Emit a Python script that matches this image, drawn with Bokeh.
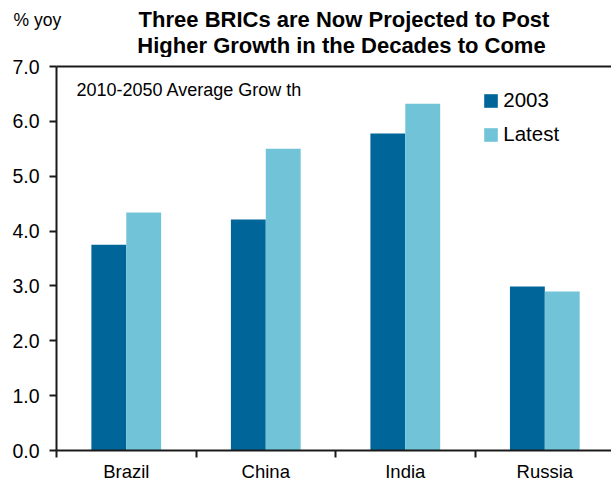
from bokeh.plotting import figure
from bokeh.layouts import column
from bokeh.models import (Range1d, FixedTicker, NumeralTickFormatter, Label, LinearAxis,
                          Legend, LegendItem, ColumnDataSource)
from bokeh.embed import file_html
from bokeh.resources import INLINE

# ---- data ----
categories = ["Brazil", "China", "India", "Russia"]
growth_2003 = [3.75, 4.21, 5.78, 2.99]
growth_latest = [4.34, 5.50, 6.32, 2.90]
series_names = ["2003", "Latest"]
y_ticks = [0, 1, 2, 3, 4, 5, 6, 7]
title_lines = ["Three BRICs are Now Projected to Post",
               "Higher Growth in the Decades to Come"]
unit_label = "% yoy"
note_text = "2010-2050 Average Grow th"

# ---- style ----
FONT = "Liberation Sans"
DARK = "#006699"
LIGHT = "#71C4D8"
AX = "#1a1a1a"
BW = 0.25
W = 611
H_TOP = 57
H_MAIN = 485 - H_TOP

# ---- header strip (titles) ----
t = figure(width=W, height=H_TOP, output_backend="svg", toolbar_location=None, title=None,
           x_range=Range1d(0, W), y_range=Range1d(H_TOP, 0),
           x_axis_location=None, y_axis_location=None,
           min_border=0, min_border_left=0, min_border_right=0,
           min_border_top=0, min_border_bottom=0)
t.frame_align = False
t.outline_line_color = None
t.xgrid.visible = False
t.ygrid.visible = False
t.add_layout(Label(x=13, y=19, text=unit_label, text_font=FONT, text_color="black",
                   text_font_size="17.5px", text_baseline="middle", text_align="left"))
t.add_layout(Label(x=343.5, y=19, text=title_lines[0], text_font=FONT, text_color="black",
                   text_font_size="22px", text_font_style="bold",
                   text_baseline="middle", text_align="center"))
t.add_layout(Label(x=341, y=44.5, text=title_lines[1], text_font=FONT, text_color="black",
                   text_font_size="22px", text_font_style="bold",
                   text_baseline="middle", text_align="center"))

# ---- main chart ----
centers = [i + 0.5 for i in range(len(categories))]

p = figure(width=W, height=H_MAIN, output_backend="svg", toolbar_location=None, title=None,
           x_range=Range1d(0, 3.978), y_range=Range1d(0, 7),
           min_border_left=56, min_border_right=0, min_border_top=66 - H_TOP,
           min_border_bottom=35)
p.frame_align = False
p.outline_line_color = None
p.xgrid.visible = False
p.ygrid.visible = False

src = ColumnDataSource(dict(
    x1=[c - BW / 2 for c in centers],
    x2=[c + BW / 2 for c in centers],
    a=growth_2003, b=growth_latest, cat=categories))
r1 = p.vbar(x="x1", top="a", width=BW, source=src, fill_color=DARK, line_color=None)
r2 = p.vbar(x="x2", top="b", width=BW, source=src, fill_color=LIGHT, line_color=None)

xa = p.xaxis[0]
xa.ticker = FixedTicker(ticks=centers, minor_ticks=list(range(len(categories) + 1)))
xa.major_label_overrides = {c: cat for c, cat in zip(centers, categories)}
xa.major_tick_out = 0
xa.major_tick_in = 0
xa.minor_tick_out = 7
xa.minor_tick_in = 0
xa.minor_tick_line_color = AX
xa.minor_tick_line_width = 2
xa.axis_line_color = AX
xa.axis_line_width = 2
xa.major_label_text_font = FONT
xa.major_label_text_font_size = "18.5px"
xa.major_label_text_color = "black"
xa.major_label_text_line_height = 1.0
xa.major_label_standoff = 3

ya = p.yaxis[0]
ya.ticker = FixedTicker(ticks=y_ticks)
ya.formatter = NumeralTickFormatter(format="0.0")
ya.major_tick_out = 7
ya.major_tick_in = 0
ya.minor_tick_out = 0
ya.minor_tick_in = 0
ya.major_tick_line_color = AX
ya.major_tick_line_width = 2
ya.axis_line_color = AX
ya.axis_line_width = 2
ya.major_label_text_font = FONT
ya.major_label_text_font_size = "19.5px"
ya.major_label_text_color = "black"
ya.major_label_standoff = 10

# top border line of the plot area
top_axis = LinearAxis(ticker=FixedTicker(ticks=[]), major_tick_out=0, major_tick_in=0,
                      minor_tick_out=0, minor_tick_in=0, major_label_standoff=0,
                      major_label_text_font_size="0px", axis_line_color=AX, axis_line_width=2)
p.add_layout(top_axis, "above")

legend = Legend(items=[LegendItem(label=series_names[0], renderers=[r1]),
                       LegendItem(label=series_names[1], renderers=[r2])],
                location=(426.3, 304), orientation="vertical",
                padding=0, margin=0, spacing=10,
                glyph_width=17, glyph_height=17, label_standoff=4,
                label_text_font=FONT, label_text_font_size="20.5px",
                label_text_color="black",
                border_line_color=None, background_fill_alpha=0)
p.add_layout(legend)

p.add_layout(Label(x=0.143, y=6.58, text=note_text, text_font=FONT, text_color="black",
                   text_font_size="18px", text_baseline="middle", text_align="left"))

layout = column(t, p, spacing=0)
open("out.html", "w").write(file_html(layout, INLINE))
